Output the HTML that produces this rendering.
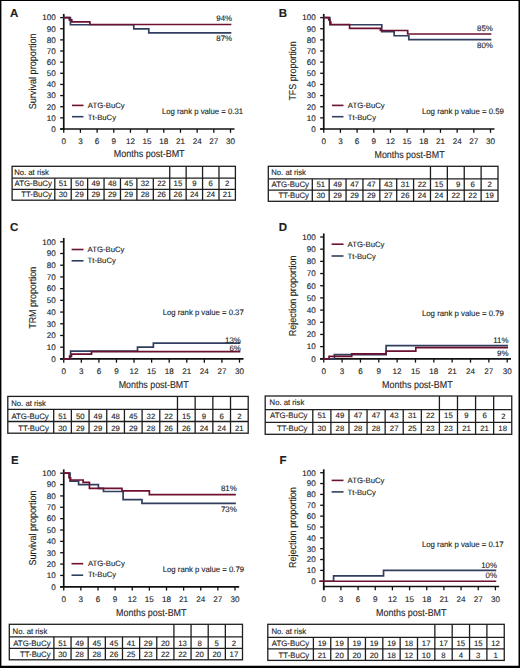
<!DOCTYPE html>
<html><head><meta charset="utf-8"><style>
html,body{margin:0;padding:0;background:#fff;}
body{width:520px;height:668px;overflow:hidden;}
svg{display:block;}
text{font-family:"Liberation Sans", sans-serif;fill:#1e1e1e;text-rendering:geometricPrecision;stroke:#1e1e1e;stroke-width:0.12px;}
</style></head><body>
<svg width="520" height="668" viewBox="0 0 520 668">
<rect x="0" y="0" width="520" height="668" fill="#fff"/>
<text x="10.00" y="16.90" font-size="11.5" font-weight="bold">A</text>
<line x1="63.75" y1="13.90" x2="63.75" y2="129.60" stroke="#111" stroke-width="1.7"/>
<line x1="60.15" y1="129.00" x2="234.50" y2="129.00" stroke="#111" stroke-width="1.7"/>
<line x1="60.15" y1="129.00" x2="63.75" y2="129.00" stroke="#111" stroke-width="1.3"/>
<text x="55.80" y="131.85" font-size="8.1" text-anchor="end">0</text>
<line x1="60.15" y1="117.86" x2="63.75" y2="117.86" stroke="#111" stroke-width="1.3"/>
<text x="55.80" y="120.71" font-size="8.1" text-anchor="end">10</text>
<line x1="60.15" y1="106.72" x2="63.75" y2="106.72" stroke="#111" stroke-width="1.3"/>
<text x="55.80" y="109.57" font-size="8.1" text-anchor="end">20</text>
<line x1="60.15" y1="95.58" x2="63.75" y2="95.58" stroke="#111" stroke-width="1.3"/>
<text x="55.80" y="98.43" font-size="8.1" text-anchor="end">30</text>
<line x1="60.15" y1="84.44" x2="63.75" y2="84.44" stroke="#111" stroke-width="1.3"/>
<text x="55.80" y="87.29" font-size="8.1" text-anchor="end">40</text>
<line x1="60.15" y1="73.30" x2="63.75" y2="73.30" stroke="#111" stroke-width="1.3"/>
<text x="55.80" y="76.15" font-size="8.1" text-anchor="end">50</text>
<line x1="60.15" y1="62.16" x2="63.75" y2="62.16" stroke="#111" stroke-width="1.3"/>
<text x="55.80" y="65.01" font-size="8.1" text-anchor="end">60</text>
<line x1="60.15" y1="51.02" x2="63.75" y2="51.02" stroke="#111" stroke-width="1.3"/>
<text x="55.80" y="53.87" font-size="8.1" text-anchor="end">70</text>
<line x1="60.15" y1="39.88" x2="63.75" y2="39.88" stroke="#111" stroke-width="1.3"/>
<text x="55.80" y="42.73" font-size="8.1" text-anchor="end">80</text>
<line x1="60.15" y1="28.74" x2="63.75" y2="28.74" stroke="#111" stroke-width="1.3"/>
<text x="55.80" y="31.59" font-size="8.1" text-anchor="end">90</text>
<line x1="60.15" y1="17.60" x2="63.75" y2="17.60" stroke="#111" stroke-width="1.3"/>
<text x="55.80" y="20.45" font-size="8.1" text-anchor="end">100</text>
<line x1="63.75" y1="129.00" x2="63.75" y2="132.80" stroke="#111" stroke-width="1.3"/>
<text x="63.75" y="144.00" font-size="8.1" text-anchor="middle">0</text>
<line x1="80.42" y1="129.00" x2="80.42" y2="132.80" stroke="#111" stroke-width="1.3"/>
<text x="80.42" y="144.00" font-size="8.1" text-anchor="middle">3</text>
<line x1="97.10" y1="129.00" x2="97.10" y2="132.80" stroke="#111" stroke-width="1.3"/>
<text x="97.10" y="144.00" font-size="8.1" text-anchor="middle">6</text>
<line x1="113.78" y1="129.00" x2="113.78" y2="132.80" stroke="#111" stroke-width="1.3"/>
<text x="113.78" y="144.00" font-size="8.1" text-anchor="middle">9</text>
<line x1="130.45" y1="129.00" x2="130.45" y2="132.80" stroke="#111" stroke-width="1.3"/>
<text x="130.45" y="144.00" font-size="8.1" text-anchor="middle">12</text>
<line x1="147.12" y1="129.00" x2="147.12" y2="132.80" stroke="#111" stroke-width="1.3"/>
<text x="147.12" y="144.00" font-size="8.1" text-anchor="middle">15</text>
<line x1="163.80" y1="129.00" x2="163.80" y2="132.80" stroke="#111" stroke-width="1.3"/>
<text x="163.80" y="144.00" font-size="8.1" text-anchor="middle">18</text>
<line x1="180.47" y1="129.00" x2="180.47" y2="132.80" stroke="#111" stroke-width="1.3"/>
<text x="180.47" y="144.00" font-size="8.1" text-anchor="middle">21</text>
<line x1="197.15" y1="129.00" x2="197.15" y2="132.80" stroke="#111" stroke-width="1.3"/>
<text x="197.15" y="144.00" font-size="8.1" text-anchor="middle">24</text>
<line x1="213.82" y1="129.00" x2="213.82" y2="132.80" stroke="#111" stroke-width="1.3"/>
<text x="213.82" y="144.00" font-size="8.1" text-anchor="middle">27</text>
<line x1="230.50" y1="129.00" x2="230.50" y2="132.80" stroke="#111" stroke-width="1.3"/>
<text x="230.50" y="144.00" font-size="8.1" text-anchor="middle">30</text>
<text x="113.80" y="157.20" font-size="10" textLength="70.80" lengthAdjust="spacingAndGlyphs">Months post-BMT</text>
<text transform="translate(35.90,71.35) rotate(-90)" font-size="10" text-anchor="middle" textLength="76.00" lengthAdjust="spacingAndGlyphs">Survival proportion</text>
<line x1="72.00" y1="105.40" x2="83.50" y2="105.40" stroke="#6e1130" stroke-width="1.6"/>
<line x1="72.00" y1="116.70" x2="83.50" y2="116.70" stroke="#303f5f" stroke-width="1.6"/>
<text x="87.80" y="108.10" font-size="7.7" textLength="36.90" lengthAdjust="spacingAndGlyphs">ATG-BuCy</text>
<text x="87.80" y="119.60" font-size="7.7" textLength="28.20" lengthAdjust="spacingAndGlyphs">Tt-BuCy</text>
<text x="161.90" y="114.30" font-size="7.9" textLength="81.20" lengthAdjust="spacingAndGlyphs">Log rank p value = 0.31</text>
<path d="M63.75,17.60 H70.42 V24.73 H133.78 V28.96 H148.79 V32.86 H230.50" fill="none" stroke="#303f5f" stroke-width="1.7" stroke-linecap="square"/>
<path d="M63.75,17.60 H69.31 V19.83 H71.81 V21.94 H89.87 V24.51 H230.50" fill="none" stroke="#6e1130" stroke-width="1.7" stroke-linecap="square"/>
<text x="232.10" y="20.80" font-size="7.9" text-anchor="end">94%</text>
<text x="232.10" y="40.80" font-size="7.9" text-anchor="end">87%</text>
<rect x="12.10" y="166.30" width="223.30" height="33.90" fill="none" stroke="#1e1e1e" stroke-width="1.3"/>
<line x1="12.10" y1="178.20" x2="235.40" y2="178.20" stroke="#1e1e1e" stroke-width="1.3"/>
<line x1="12.10" y1="189.30" x2="235.40" y2="189.30" stroke="#1e1e1e" stroke-width="1.3"/>
<line x1="54.80" y1="178.20" x2="54.80" y2="200.20" stroke="#1e1e1e" stroke-width="1.3"/>
<line x1="71.22" y1="178.20" x2="71.22" y2="200.20" stroke="#1e1e1e" stroke-width="1.3"/>
<line x1="87.64" y1="178.20" x2="87.64" y2="200.20" stroke="#1e1e1e" stroke-width="1.3"/>
<line x1="104.05" y1="178.20" x2="104.05" y2="200.20" stroke="#1e1e1e" stroke-width="1.3"/>
<line x1="120.47" y1="178.20" x2="120.47" y2="200.20" stroke="#1e1e1e" stroke-width="1.3"/>
<line x1="136.89" y1="178.20" x2="136.89" y2="200.20" stroke="#1e1e1e" stroke-width="1.3"/>
<line x1="153.31" y1="178.20" x2="153.31" y2="200.20" stroke="#1e1e1e" stroke-width="1.3"/>
<line x1="169.73" y1="166.30" x2="169.73" y2="200.20" stroke="#1e1e1e" stroke-width="1.3"/>
<line x1="186.15" y1="166.30" x2="186.15" y2="200.20" stroke="#1e1e1e" stroke-width="1.3"/>
<line x1="202.56" y1="166.30" x2="202.56" y2="200.20" stroke="#1e1e1e" stroke-width="1.3"/>
<line x1="218.98" y1="166.30" x2="218.98" y2="200.20" stroke="#1e1e1e" stroke-width="1.3"/>
<text x="14.20" y="174.75" font-size="7.9" textLength="34.70" lengthAdjust="spacingAndGlyphs">No. at risk</text>
<text x="51.90" y="186.25" font-size="7.9" text-anchor="end" textLength="37.40" lengthAdjust="spacingAndGlyphs">ATG-BuCy</text>
<text x="51.90" y="197.25" font-size="7.9" text-anchor="end" textLength="30.60" lengthAdjust="spacingAndGlyphs">TT-BuCy</text>
<text x="63.01" y="186.25" font-size="7.8" text-anchor="middle">51</text>
<text x="79.43" y="186.25" font-size="7.8" text-anchor="middle">50</text>
<text x="95.85" y="186.25" font-size="7.8" text-anchor="middle">49</text>
<text x="112.26" y="186.25" font-size="7.8" text-anchor="middle">48</text>
<text x="128.68" y="186.25" font-size="7.8" text-anchor="middle">45</text>
<text x="145.10" y="186.25" font-size="7.8" text-anchor="middle">32</text>
<text x="161.52" y="186.25" font-size="7.8" text-anchor="middle">22</text>
<text x="177.94" y="186.25" font-size="7.8" text-anchor="middle">15</text>
<text x="194.35" y="186.25" font-size="7.8" text-anchor="middle">9</text>
<text x="210.77" y="186.25" font-size="7.8" text-anchor="middle">6</text>
<text x="227.19" y="186.25" font-size="7.8" text-anchor="middle">2</text>
<text x="63.01" y="197.25" font-size="7.8" text-anchor="middle">30</text>
<text x="79.43" y="197.25" font-size="7.8" text-anchor="middle">29</text>
<text x="95.85" y="197.25" font-size="7.8" text-anchor="middle">29</text>
<text x="112.26" y="197.25" font-size="7.8" text-anchor="middle">29</text>
<text x="128.68" y="197.25" font-size="7.8" text-anchor="middle">29</text>
<text x="145.10" y="197.25" font-size="7.8" text-anchor="middle">28</text>
<text x="161.52" y="197.25" font-size="7.8" text-anchor="middle">26</text>
<text x="177.94" y="197.25" font-size="7.8" text-anchor="middle">26</text>
<text x="194.35" y="197.25" font-size="7.8" text-anchor="middle">24</text>
<text x="210.77" y="197.25" font-size="7.8" text-anchor="middle">24</text>
<text x="227.19" y="197.25" font-size="7.8" text-anchor="middle">21</text>
<text x="278.75" y="16.90" font-size="11.5" font-weight="bold">B</text>
<line x1="323.75" y1="13.90" x2="323.75" y2="129.60" stroke="#111" stroke-width="1.7"/>
<line x1="320.15" y1="129.00" x2="494.50" y2="129.00" stroke="#111" stroke-width="1.7"/>
<line x1="320.15" y1="129.00" x2="323.75" y2="129.00" stroke="#111" stroke-width="1.3"/>
<text x="315.80" y="131.85" font-size="8.1" text-anchor="end">0</text>
<line x1="320.15" y1="117.86" x2="323.75" y2="117.86" stroke="#111" stroke-width="1.3"/>
<text x="315.80" y="120.71" font-size="8.1" text-anchor="end">10</text>
<line x1="320.15" y1="106.72" x2="323.75" y2="106.72" stroke="#111" stroke-width="1.3"/>
<text x="315.80" y="109.57" font-size="8.1" text-anchor="end">20</text>
<line x1="320.15" y1="95.58" x2="323.75" y2="95.58" stroke="#111" stroke-width="1.3"/>
<text x="315.80" y="98.43" font-size="8.1" text-anchor="end">30</text>
<line x1="320.15" y1="84.44" x2="323.75" y2="84.44" stroke="#111" stroke-width="1.3"/>
<text x="315.80" y="87.29" font-size="8.1" text-anchor="end">40</text>
<line x1="320.15" y1="73.30" x2="323.75" y2="73.30" stroke="#111" stroke-width="1.3"/>
<text x="315.80" y="76.15" font-size="8.1" text-anchor="end">50</text>
<line x1="320.15" y1="62.16" x2="323.75" y2="62.16" stroke="#111" stroke-width="1.3"/>
<text x="315.80" y="65.01" font-size="8.1" text-anchor="end">60</text>
<line x1="320.15" y1="51.02" x2="323.75" y2="51.02" stroke="#111" stroke-width="1.3"/>
<text x="315.80" y="53.87" font-size="8.1" text-anchor="end">70</text>
<line x1="320.15" y1="39.88" x2="323.75" y2="39.88" stroke="#111" stroke-width="1.3"/>
<text x="315.80" y="42.73" font-size="8.1" text-anchor="end">80</text>
<line x1="320.15" y1="28.74" x2="323.75" y2="28.74" stroke="#111" stroke-width="1.3"/>
<text x="315.80" y="31.59" font-size="8.1" text-anchor="end">90</text>
<line x1="320.15" y1="17.60" x2="323.75" y2="17.60" stroke="#111" stroke-width="1.3"/>
<text x="315.80" y="20.45" font-size="8.1" text-anchor="end">100</text>
<line x1="323.75" y1="129.00" x2="323.75" y2="132.80" stroke="#111" stroke-width="1.3"/>
<text x="323.75" y="144.00" font-size="8.1" text-anchor="middle">0</text>
<line x1="340.43" y1="129.00" x2="340.43" y2="132.80" stroke="#111" stroke-width="1.3"/>
<text x="340.43" y="144.00" font-size="8.1" text-anchor="middle">3</text>
<line x1="357.10" y1="129.00" x2="357.10" y2="132.80" stroke="#111" stroke-width="1.3"/>
<text x="357.10" y="144.00" font-size="8.1" text-anchor="middle">6</text>
<line x1="373.77" y1="129.00" x2="373.77" y2="132.80" stroke="#111" stroke-width="1.3"/>
<text x="373.77" y="144.00" font-size="8.1" text-anchor="middle">9</text>
<line x1="390.45" y1="129.00" x2="390.45" y2="132.80" stroke="#111" stroke-width="1.3"/>
<text x="390.45" y="144.00" font-size="8.1" text-anchor="middle">12</text>
<line x1="407.12" y1="129.00" x2="407.12" y2="132.80" stroke="#111" stroke-width="1.3"/>
<text x="407.12" y="144.00" font-size="8.1" text-anchor="middle">15</text>
<line x1="423.80" y1="129.00" x2="423.80" y2="132.80" stroke="#111" stroke-width="1.3"/>
<text x="423.80" y="144.00" font-size="8.1" text-anchor="middle">18</text>
<line x1="440.48" y1="129.00" x2="440.48" y2="132.80" stroke="#111" stroke-width="1.3"/>
<text x="440.48" y="144.00" font-size="8.1" text-anchor="middle">21</text>
<line x1="457.15" y1="129.00" x2="457.15" y2="132.80" stroke="#111" stroke-width="1.3"/>
<text x="457.15" y="144.00" font-size="8.1" text-anchor="middle">24</text>
<line x1="473.82" y1="129.00" x2="473.82" y2="132.80" stroke="#111" stroke-width="1.3"/>
<text x="473.82" y="144.00" font-size="8.1" text-anchor="middle">27</text>
<line x1="490.50" y1="129.00" x2="490.50" y2="132.80" stroke="#111" stroke-width="1.3"/>
<text x="490.50" y="144.00" font-size="8.1" text-anchor="middle">30</text>
<text x="374.50" y="157.50" font-size="10" textLength="70.10" lengthAdjust="spacingAndGlyphs">Months post-BMT</text>
<text transform="translate(295.90,71.00) rotate(-90)" font-size="10" text-anchor="middle" textLength="59.20" lengthAdjust="spacingAndGlyphs">TFS proportion</text>
<line x1="332.00" y1="105.40" x2="343.50" y2="105.40" stroke="#6e1130" stroke-width="1.6"/>
<line x1="332.00" y1="116.70" x2="343.50" y2="116.70" stroke="#303f5f" stroke-width="1.6"/>
<text x="347.80" y="108.10" font-size="7.7" textLength="36.90" lengthAdjust="spacingAndGlyphs">ATG-BuCy</text>
<text x="347.80" y="119.60" font-size="7.7" textLength="28.20" lengthAdjust="spacingAndGlyphs">Tt-BuCy</text>
<text x="421.90" y="114.10" font-size="7.9" textLength="82.10" lengthAdjust="spacingAndGlyphs">Log rank p value = 0.59</text>
<path d="M323.75,17.60 H329.86 V24.73 H381.78 V31.64 H394.17 V35.76 H408.79 V39.55 H490.50" fill="none" stroke="#303f5f" stroke-width="1.7" stroke-linecap="square"/>
<path d="M323.75,17.60 H328.75 V19.83 H329.86 V22.06 H330.81 V24.51 H349.60 V28.29 H380.44 V30.52 H407.68 V33.98 H490.50" fill="none" stroke="#6e1130" stroke-width="1.7" stroke-linecap="square"/>
<text x="492.80" y="30.80" font-size="7.9" text-anchor="end">85%</text>
<text x="492.80" y="47.70" font-size="7.9" text-anchor="end">80%</text>
<rect x="268.30" y="166.30" width="229.70" height="35.00" fill="none" stroke="#1e1e1e" stroke-width="1.3"/>
<line x1="268.30" y1="178.80" x2="498.00" y2="178.80" stroke="#1e1e1e" stroke-width="1.3"/>
<line x1="268.30" y1="190.20" x2="498.00" y2="190.20" stroke="#1e1e1e" stroke-width="1.3"/>
<line x1="312.30" y1="178.80" x2="312.30" y2="201.30" stroke="#1e1e1e" stroke-width="1.3"/>
<line x1="329.18" y1="178.80" x2="329.18" y2="201.30" stroke="#1e1e1e" stroke-width="1.3"/>
<line x1="346.06" y1="178.80" x2="346.06" y2="201.30" stroke="#1e1e1e" stroke-width="1.3"/>
<line x1="362.95" y1="178.80" x2="362.95" y2="201.30" stroke="#1e1e1e" stroke-width="1.3"/>
<line x1="379.83" y1="178.80" x2="379.83" y2="201.30" stroke="#1e1e1e" stroke-width="1.3"/>
<line x1="396.71" y1="178.80" x2="396.71" y2="201.30" stroke="#1e1e1e" stroke-width="1.3"/>
<line x1="413.59" y1="178.80" x2="413.59" y2="201.30" stroke="#1e1e1e" stroke-width="1.3"/>
<line x1="430.47" y1="166.30" x2="430.47" y2="201.30" stroke="#1e1e1e" stroke-width="1.3"/>
<line x1="447.35" y1="166.30" x2="447.35" y2="201.30" stroke="#1e1e1e" stroke-width="1.3"/>
<line x1="464.24" y1="166.30" x2="464.24" y2="201.30" stroke="#1e1e1e" stroke-width="1.3"/>
<line x1="481.12" y1="166.30" x2="481.12" y2="201.30" stroke="#1e1e1e" stroke-width="1.3"/>
<text x="271.25" y="174.85" font-size="7.9" textLength="34.70" lengthAdjust="spacingAndGlyphs">No. at risk</text>
<text x="309.00" y="186.80" font-size="7.9" text-anchor="end" textLength="37.40" lengthAdjust="spacingAndGlyphs">ATG-BuCy</text>
<text x="309.00" y="198.05" font-size="7.9" text-anchor="end" textLength="30.60" lengthAdjust="spacingAndGlyphs">TT-BuCy</text>
<text x="320.74" y="186.80" font-size="7.8" text-anchor="middle">51</text>
<text x="337.62" y="186.80" font-size="7.8" text-anchor="middle">49</text>
<text x="354.50" y="186.80" font-size="7.8" text-anchor="middle">47</text>
<text x="371.39" y="186.80" font-size="7.8" text-anchor="middle">47</text>
<text x="388.27" y="186.80" font-size="7.8" text-anchor="middle">43</text>
<text x="405.15" y="186.80" font-size="7.8" text-anchor="middle">31</text>
<text x="422.03" y="186.80" font-size="7.8" text-anchor="middle">22</text>
<text x="438.91" y="186.80" font-size="7.8" text-anchor="middle">15</text>
<text x="458.10" y="186.80" font-size="7.8" text-anchor="middle">9</text>
<text x="472.68" y="186.80" font-size="7.8" text-anchor="middle">6</text>
<text x="489.56" y="186.80" font-size="7.8" text-anchor="middle">2</text>
<text x="320.74" y="198.05" font-size="7.8" text-anchor="middle">30</text>
<text x="337.62" y="198.05" font-size="7.8" text-anchor="middle">29</text>
<text x="354.50" y="198.05" font-size="7.8" text-anchor="middle">29</text>
<text x="371.39" y="198.05" font-size="7.8" text-anchor="middle">29</text>
<text x="388.27" y="198.05" font-size="7.8" text-anchor="middle">27</text>
<text x="405.15" y="198.05" font-size="7.8" text-anchor="middle">26</text>
<text x="422.03" y="198.05" font-size="7.8" text-anchor="middle">24</text>
<text x="438.91" y="198.05" font-size="7.8" text-anchor="middle">24</text>
<text x="455.80" y="198.05" font-size="7.8" text-anchor="middle">22</text>
<text x="472.68" y="198.05" font-size="7.8" text-anchor="middle">22</text>
<text x="489.56" y="198.05" font-size="7.8" text-anchor="middle">19</text>
<text x="10.00" y="231.00" font-size="11.5" font-weight="bold">C</text>
<line x1="63.75" y1="238.00" x2="63.75" y2="359.50" stroke="#111" stroke-width="1.7"/>
<line x1="60.15" y1="358.90" x2="243.50" y2="358.90" stroke="#111" stroke-width="1.7"/>
<line x1="60.15" y1="358.90" x2="63.75" y2="358.90" stroke="#111" stroke-width="1.3"/>
<text x="55.80" y="361.75" font-size="8.1" text-anchor="end">0</text>
<line x1="60.15" y1="347.19" x2="63.75" y2="347.19" stroke="#111" stroke-width="1.3"/>
<text x="55.80" y="350.04" font-size="8.1" text-anchor="end">10</text>
<line x1="60.15" y1="335.48" x2="63.75" y2="335.48" stroke="#111" stroke-width="1.3"/>
<text x="55.80" y="338.33" font-size="8.1" text-anchor="end">20</text>
<line x1="60.15" y1="323.77" x2="63.75" y2="323.77" stroke="#111" stroke-width="1.3"/>
<text x="55.80" y="326.62" font-size="8.1" text-anchor="end">30</text>
<line x1="60.15" y1="312.06" x2="63.75" y2="312.06" stroke="#111" stroke-width="1.3"/>
<text x="55.80" y="314.91" font-size="8.1" text-anchor="end">40</text>
<line x1="60.15" y1="300.35" x2="63.75" y2="300.35" stroke="#111" stroke-width="1.3"/>
<text x="55.80" y="303.20" font-size="8.1" text-anchor="end">50</text>
<line x1="60.15" y1="288.64" x2="63.75" y2="288.64" stroke="#111" stroke-width="1.3"/>
<text x="55.80" y="291.49" font-size="8.1" text-anchor="end">60</text>
<line x1="60.15" y1="276.93" x2="63.75" y2="276.93" stroke="#111" stroke-width="1.3"/>
<text x="55.80" y="279.78" font-size="8.1" text-anchor="end">70</text>
<line x1="60.15" y1="265.22" x2="63.75" y2="265.22" stroke="#111" stroke-width="1.3"/>
<text x="55.80" y="268.07" font-size="8.1" text-anchor="end">80</text>
<line x1="60.15" y1="253.51" x2="63.75" y2="253.51" stroke="#111" stroke-width="1.3"/>
<text x="55.80" y="256.36" font-size="8.1" text-anchor="end">90</text>
<line x1="60.15" y1="241.80" x2="63.75" y2="241.80" stroke="#111" stroke-width="1.3"/>
<text x="55.80" y="244.65" font-size="8.1" text-anchor="end">100</text>
<line x1="63.75" y1="358.90" x2="63.75" y2="362.70" stroke="#111" stroke-width="1.3"/>
<text x="63.75" y="373.80" font-size="8.1" text-anchor="middle">0</text>
<line x1="81.33" y1="358.90" x2="81.33" y2="362.70" stroke="#111" stroke-width="1.3"/>
<text x="81.33" y="373.80" font-size="8.1" text-anchor="middle">3</text>
<line x1="98.90" y1="358.90" x2="98.90" y2="362.70" stroke="#111" stroke-width="1.3"/>
<text x="98.90" y="373.80" font-size="8.1" text-anchor="middle">6</text>
<line x1="116.47" y1="358.90" x2="116.47" y2="362.70" stroke="#111" stroke-width="1.3"/>
<text x="116.47" y="373.80" font-size="8.1" text-anchor="middle">9</text>
<line x1="134.05" y1="358.90" x2="134.05" y2="362.70" stroke="#111" stroke-width="1.3"/>
<text x="134.05" y="373.80" font-size="8.1" text-anchor="middle">12</text>
<line x1="151.62" y1="358.90" x2="151.62" y2="362.70" stroke="#111" stroke-width="1.3"/>
<text x="151.62" y="373.80" font-size="8.1" text-anchor="middle">15</text>
<line x1="169.20" y1="358.90" x2="169.20" y2="362.70" stroke="#111" stroke-width="1.3"/>
<text x="169.20" y="373.80" font-size="8.1" text-anchor="middle">18</text>
<line x1="186.78" y1="358.90" x2="186.78" y2="362.70" stroke="#111" stroke-width="1.3"/>
<text x="186.78" y="373.80" font-size="8.1" text-anchor="middle">21</text>
<line x1="204.35" y1="358.90" x2="204.35" y2="362.70" stroke="#111" stroke-width="1.3"/>
<text x="204.35" y="373.80" font-size="8.1" text-anchor="middle">24</text>
<line x1="221.93" y1="358.90" x2="221.93" y2="362.70" stroke="#111" stroke-width="1.3"/>
<text x="221.93" y="373.80" font-size="8.1" text-anchor="middle">27</text>
<line x1="239.50" y1="358.90" x2="239.50" y2="362.70" stroke="#111" stroke-width="1.3"/>
<text x="239.50" y="373.80" font-size="8.1" text-anchor="middle">30</text>
<text x="118.70" y="388.00" font-size="10" textLength="70.00" lengthAdjust="spacingAndGlyphs">Months post-BMT</text>
<text transform="translate(36.40,297.80) rotate(-90)" font-size="10" text-anchor="middle" textLength="62.00" lengthAdjust="spacingAndGlyphs">TRM proportion</text>
<line x1="71.60" y1="249.50" x2="83.50" y2="249.50" stroke="#6e1130" stroke-width="1.6"/>
<line x1="71.60" y1="260.80" x2="83.50" y2="260.80" stroke="#303f5f" stroke-width="1.6"/>
<text x="87.60" y="252.30" font-size="7.7" textLength="36.90" lengthAdjust="spacingAndGlyphs">ATG-BuCy</text>
<text x="87.60" y="263.40" font-size="7.7" textLength="28.20" lengthAdjust="spacingAndGlyphs">Tt-BuCy</text>
<text x="162.70" y="314.60" font-size="7.9" textLength="81.00" lengthAdjust="spacingAndGlyphs">Log rank p value = 0.37</text>
<path d="M63.75,358.90 H70.60 V351.05 H137.51 V347.07 H153.38 V343.21 H239.50" fill="none" stroke="#303f5f" stroke-width="1.7" stroke-linecap="square"/>
<path d="M63.75,358.90 H69.61 V356.09 H71.48 V354.10 H91.52 V351.64 H239.50" fill="none" stroke="#6e1130" stroke-width="1.7" stroke-linecap="square"/>
<text x="240.90" y="343.00" font-size="7.9" text-anchor="end">13%</text>
<text x="240.90" y="351.00" font-size="7.9" text-anchor="end">6%</text>
<rect x="7.80" y="396.40" width="240.40" height="36.80" fill="none" stroke="#1e1e1e" stroke-width="1.3"/>
<line x1="7.80" y1="409.30" x2="248.20" y2="409.30" stroke="#1e1e1e" stroke-width="1.3"/>
<line x1="7.80" y1="421.50" x2="248.20" y2="421.50" stroke="#1e1e1e" stroke-width="1.3"/>
<line x1="53.70" y1="409.30" x2="53.70" y2="433.20" stroke="#1e1e1e" stroke-width="1.3"/>
<line x1="71.38" y1="409.30" x2="71.38" y2="433.20" stroke="#1e1e1e" stroke-width="1.3"/>
<line x1="89.06" y1="409.30" x2="89.06" y2="433.20" stroke="#1e1e1e" stroke-width="1.3"/>
<line x1="106.75" y1="409.30" x2="106.75" y2="433.20" stroke="#1e1e1e" stroke-width="1.3"/>
<line x1="124.43" y1="409.30" x2="124.43" y2="433.20" stroke="#1e1e1e" stroke-width="1.3"/>
<line x1="142.11" y1="409.30" x2="142.11" y2="433.20" stroke="#1e1e1e" stroke-width="1.3"/>
<line x1="159.79" y1="409.30" x2="159.79" y2="433.20" stroke="#1e1e1e" stroke-width="1.3"/>
<line x1="177.47" y1="396.40" x2="177.47" y2="433.20" stroke="#1e1e1e" stroke-width="1.3"/>
<line x1="195.15" y1="396.40" x2="195.15" y2="433.20" stroke="#1e1e1e" stroke-width="1.3"/>
<line x1="212.84" y1="396.40" x2="212.84" y2="433.20" stroke="#1e1e1e" stroke-width="1.3"/>
<line x1="230.52" y1="396.40" x2="230.52" y2="433.20" stroke="#1e1e1e" stroke-width="1.3"/>
<text x="11.25" y="406.45" font-size="7.9" textLength="34.70" lengthAdjust="spacingAndGlyphs">No. at risk</text>
<text x="48.80" y="419.00" font-size="7.9" text-anchor="end" textLength="37.40" lengthAdjust="spacingAndGlyphs">ATG-BuCy</text>
<text x="48.80" y="430.95" font-size="7.9" text-anchor="end" textLength="30.60" lengthAdjust="spacingAndGlyphs">TT-BuCy</text>
<text x="62.54" y="419.00" font-size="7.8" text-anchor="middle">51</text>
<text x="80.22" y="419.00" font-size="7.8" text-anchor="middle">50</text>
<text x="97.90" y="419.00" font-size="7.8" text-anchor="middle">49</text>
<text x="115.59" y="419.00" font-size="7.8" text-anchor="middle">48</text>
<text x="133.27" y="419.00" font-size="7.8" text-anchor="middle">45</text>
<text x="150.95" y="419.00" font-size="7.8" text-anchor="middle">32</text>
<text x="168.63" y="419.00" font-size="7.8" text-anchor="middle">22</text>
<text x="186.31" y="419.00" font-size="7.8" text-anchor="middle">15</text>
<text x="204.00" y="419.00" font-size="7.8" text-anchor="middle">9</text>
<text x="221.68" y="419.00" font-size="7.8" text-anchor="middle">6</text>
<text x="239.36" y="419.00" font-size="7.8" text-anchor="middle">2</text>
<text x="62.54" y="430.95" font-size="7.8" text-anchor="middle">30</text>
<text x="80.22" y="430.95" font-size="7.8" text-anchor="middle">29</text>
<text x="97.90" y="430.95" font-size="7.8" text-anchor="middle">29</text>
<text x="115.59" y="430.95" font-size="7.8" text-anchor="middle">29</text>
<text x="133.27" y="430.95" font-size="7.8" text-anchor="middle">29</text>
<text x="150.95" y="430.95" font-size="7.8" text-anchor="middle">28</text>
<text x="168.63" y="430.95" font-size="7.8" text-anchor="middle">26</text>
<text x="186.31" y="430.95" font-size="7.8" text-anchor="middle">26</text>
<text x="204.00" y="430.95" font-size="7.8" text-anchor="middle">24</text>
<text x="221.68" y="430.95" font-size="7.8" text-anchor="middle">24</text>
<text x="239.36" y="430.95" font-size="7.8" text-anchor="middle">21</text>
<text x="278.75" y="231.00" font-size="11.5" font-weight="bold">D</text>
<line x1="323.75" y1="233.40" x2="323.75" y2="359.40" stroke="#111" stroke-width="1.7"/>
<line x1="320.15" y1="358.80" x2="511.00" y2="358.80" stroke="#111" stroke-width="1.7"/>
<line x1="320.15" y1="358.80" x2="323.75" y2="358.80" stroke="#111" stroke-width="1.3"/>
<text x="315.80" y="361.65" font-size="8.1" text-anchor="end">0</text>
<line x1="320.15" y1="346.62" x2="323.75" y2="346.62" stroke="#111" stroke-width="1.3"/>
<text x="315.80" y="349.47" font-size="8.1" text-anchor="end">10</text>
<line x1="320.15" y1="334.44" x2="323.75" y2="334.44" stroke="#111" stroke-width="1.3"/>
<text x="315.80" y="337.29" font-size="8.1" text-anchor="end">20</text>
<line x1="320.15" y1="322.26" x2="323.75" y2="322.26" stroke="#111" stroke-width="1.3"/>
<text x="315.80" y="325.11" font-size="8.1" text-anchor="end">30</text>
<line x1="320.15" y1="310.08" x2="323.75" y2="310.08" stroke="#111" stroke-width="1.3"/>
<text x="315.80" y="312.93" font-size="8.1" text-anchor="end">40</text>
<line x1="320.15" y1="297.90" x2="323.75" y2="297.90" stroke="#111" stroke-width="1.3"/>
<text x="315.80" y="300.75" font-size="8.1" text-anchor="end">50</text>
<line x1="320.15" y1="285.72" x2="323.75" y2="285.72" stroke="#111" stroke-width="1.3"/>
<text x="315.80" y="288.57" font-size="8.1" text-anchor="end">60</text>
<line x1="320.15" y1="273.54" x2="323.75" y2="273.54" stroke="#111" stroke-width="1.3"/>
<text x="315.80" y="276.39" font-size="8.1" text-anchor="end">70</text>
<line x1="320.15" y1="261.36" x2="323.75" y2="261.36" stroke="#111" stroke-width="1.3"/>
<text x="315.80" y="264.21" font-size="8.1" text-anchor="end">80</text>
<line x1="320.15" y1="249.18" x2="323.75" y2="249.18" stroke="#111" stroke-width="1.3"/>
<text x="315.80" y="252.03" font-size="8.1" text-anchor="end">90</text>
<line x1="320.15" y1="237.00" x2="323.75" y2="237.00" stroke="#111" stroke-width="1.3"/>
<text x="315.80" y="239.85" font-size="8.1" text-anchor="end">100</text>
<line x1="323.75" y1="358.80" x2="323.75" y2="362.60" stroke="#111" stroke-width="1.3"/>
<text x="323.75" y="374.00" font-size="8.1" text-anchor="middle">0</text>
<line x1="342.09" y1="358.80" x2="342.09" y2="362.60" stroke="#111" stroke-width="1.3"/>
<text x="342.09" y="374.00" font-size="8.1" text-anchor="middle">3</text>
<line x1="360.44" y1="358.80" x2="360.44" y2="362.60" stroke="#111" stroke-width="1.3"/>
<text x="360.44" y="374.00" font-size="8.1" text-anchor="middle">6</text>
<line x1="378.78" y1="358.80" x2="378.78" y2="362.60" stroke="#111" stroke-width="1.3"/>
<text x="378.78" y="374.00" font-size="8.1" text-anchor="middle">9</text>
<line x1="397.13" y1="358.80" x2="397.13" y2="362.60" stroke="#111" stroke-width="1.3"/>
<text x="397.13" y="374.00" font-size="8.1" text-anchor="middle">12</text>
<line x1="415.48" y1="358.80" x2="415.48" y2="362.60" stroke="#111" stroke-width="1.3"/>
<text x="415.48" y="374.00" font-size="8.1" text-anchor="middle">15</text>
<line x1="433.82" y1="358.80" x2="433.82" y2="362.60" stroke="#111" stroke-width="1.3"/>
<text x="433.82" y="374.00" font-size="8.1" text-anchor="middle">18</text>
<line x1="452.16" y1="358.80" x2="452.16" y2="362.60" stroke="#111" stroke-width="1.3"/>
<text x="452.16" y="374.00" font-size="8.1" text-anchor="middle">21</text>
<line x1="470.51" y1="358.80" x2="470.51" y2="362.60" stroke="#111" stroke-width="1.3"/>
<text x="470.51" y="374.00" font-size="8.1" text-anchor="middle">24</text>
<line x1="488.86" y1="358.80" x2="488.86" y2="362.60" stroke="#111" stroke-width="1.3"/>
<text x="488.86" y="374.00" font-size="8.1" text-anchor="middle">27</text>
<line x1="507.20" y1="358.80" x2="507.20" y2="362.60" stroke="#111" stroke-width="1.3"/>
<text x="507.20" y="374.00" font-size="8.1" text-anchor="middle">30</text>
<text x="382.10" y="388.00" font-size="10" textLength="70.60" lengthAdjust="spacingAndGlyphs">Months post-BMT</text>
<text transform="translate(296.20,295.90) rotate(-90)" font-size="10" text-anchor="middle" textLength="80.80" lengthAdjust="spacingAndGlyphs">Rejection proportion</text>
<line x1="331.60" y1="244.20" x2="343.50" y2="244.20" stroke="#6e1130" stroke-width="1.6"/>
<line x1="331.60" y1="256.00" x2="343.50" y2="256.00" stroke="#303f5f" stroke-width="1.6"/>
<text x="347.60" y="246.80" font-size="7.7" textLength="36.90" lengthAdjust="spacingAndGlyphs">ATG-BuCy</text>
<text x="347.60" y="258.50" font-size="7.7" textLength="28.20" lengthAdjust="spacingAndGlyphs">Tt-BuCy</text>
<text x="421.90" y="316.20" font-size="7.9" textLength="82.10" lengthAdjust="spacingAndGlyphs">Log rank p value = 0.79</text>
<path d="M323.75,358.80 H334.39 V354.66 H386.12 V345.65 H507.20" fill="none" stroke="#303f5f" stroke-width="1.7" stroke-linecap="square"/>
<path d="M323.75,358.80 H329.07 V356.36 H351.70 V353.81 H386.12 V351.13 H415.78 V347.59 H507.20" fill="none" stroke="#6e1130" stroke-width="1.7" stroke-linecap="square"/>
<text x="508.50" y="343.00" font-size="7.9" text-anchor="end">11%</text>
<text x="508.50" y="355.70" font-size="7.9" text-anchor="end">9%</text>
<rect x="265.20" y="396.00" width="246.55" height="38.30" fill="none" stroke="#1e1e1e" stroke-width="1.3"/>
<line x1="265.20" y1="409.60" x2="511.75" y2="409.60" stroke="#1e1e1e" stroke-width="1.3"/>
<line x1="265.20" y1="422.30" x2="511.75" y2="422.30" stroke="#1e1e1e" stroke-width="1.3"/>
<line x1="312.80" y1="409.60" x2="312.80" y2="434.30" stroke="#1e1e1e" stroke-width="1.3"/>
<line x1="330.89" y1="409.60" x2="330.89" y2="434.30" stroke="#1e1e1e" stroke-width="1.3"/>
<line x1="348.97" y1="409.60" x2="348.97" y2="434.30" stroke="#1e1e1e" stroke-width="1.3"/>
<line x1="367.06" y1="409.60" x2="367.06" y2="434.30" stroke="#1e1e1e" stroke-width="1.3"/>
<line x1="385.15" y1="409.60" x2="385.15" y2="434.30" stroke="#1e1e1e" stroke-width="1.3"/>
<line x1="403.23" y1="409.60" x2="403.23" y2="434.30" stroke="#1e1e1e" stroke-width="1.3"/>
<line x1="421.32" y1="409.60" x2="421.32" y2="434.30" stroke="#1e1e1e" stroke-width="1.3"/>
<line x1="439.40" y1="396.00" x2="439.40" y2="434.30" stroke="#1e1e1e" stroke-width="1.3"/>
<line x1="457.49" y1="396.00" x2="457.49" y2="434.30" stroke="#1e1e1e" stroke-width="1.3"/>
<line x1="475.58" y1="396.00" x2="475.58" y2="434.30" stroke="#1e1e1e" stroke-width="1.3"/>
<line x1="493.66" y1="396.00" x2="493.66" y2="434.30" stroke="#1e1e1e" stroke-width="1.3"/>
<text x="269.60" y="405.00" font-size="7.9" textLength="34.70" lengthAdjust="spacingAndGlyphs">No. at risk</text>
<text x="307.50" y="418.15" font-size="7.9" text-anchor="end" textLength="37.40" lengthAdjust="spacingAndGlyphs">ATG-BuCy</text>
<text x="307.50" y="430.50" font-size="7.9" text-anchor="end" textLength="30.60" lengthAdjust="spacingAndGlyphs">TT-BuCy</text>
<text x="321.84" y="418.15" font-size="7.8" text-anchor="middle">51</text>
<text x="339.93" y="418.15" font-size="7.8" text-anchor="middle">49</text>
<text x="358.02" y="418.15" font-size="7.8" text-anchor="middle">47</text>
<text x="376.10" y="418.15" font-size="7.8" text-anchor="middle">47</text>
<text x="394.19" y="418.15" font-size="7.8" text-anchor="middle">43</text>
<text x="412.27" y="418.15" font-size="7.8" text-anchor="middle">31</text>
<text x="430.36" y="418.15" font-size="7.8" text-anchor="middle">22</text>
<text x="448.45" y="418.15" font-size="7.8" text-anchor="middle">15</text>
<text x="466.53" y="418.15" font-size="7.8" text-anchor="middle">9</text>
<text x="484.62" y="418.15" font-size="7.8" text-anchor="middle">6</text>
<text x="503.31" y="419.45" font-size="7.8" text-anchor="middle">2</text>
<text x="321.84" y="430.50" font-size="7.8" text-anchor="middle">30</text>
<text x="339.93" y="430.50" font-size="7.8" text-anchor="middle">28</text>
<text x="358.02" y="430.50" font-size="7.8" text-anchor="middle">28</text>
<text x="376.10" y="430.50" font-size="7.8" text-anchor="middle">28</text>
<text x="394.19" y="430.50" font-size="7.8" text-anchor="middle">27</text>
<text x="412.27" y="430.50" font-size="7.8" text-anchor="middle">25</text>
<text x="430.36" y="430.50" font-size="7.8" text-anchor="middle">23</text>
<text x="448.45" y="430.50" font-size="7.8" text-anchor="middle">23</text>
<text x="466.53" y="430.50" font-size="7.8" text-anchor="middle">21</text>
<text x="484.62" y="430.50" font-size="7.8" text-anchor="middle">21</text>
<text x="502.71" y="430.50" font-size="7.8" text-anchor="middle">18</text>
<text x="11.00" y="464.00" font-size="11.5" font-weight="bold">E</text>
<line x1="63.75" y1="469.40" x2="63.75" y2="587.40" stroke="#111" stroke-width="1.7"/>
<line x1="60.15" y1="586.80" x2="239.20" y2="586.80" stroke="#111" stroke-width="1.7"/>
<line x1="60.15" y1="586.80" x2="63.75" y2="586.80" stroke="#111" stroke-width="1.3"/>
<text x="55.80" y="589.65" font-size="8.1" text-anchor="end">0</text>
<line x1="60.15" y1="575.44" x2="63.75" y2="575.44" stroke="#111" stroke-width="1.3"/>
<text x="55.80" y="578.29" font-size="8.1" text-anchor="end">10</text>
<line x1="60.15" y1="564.08" x2="63.75" y2="564.08" stroke="#111" stroke-width="1.3"/>
<text x="55.80" y="566.93" font-size="8.1" text-anchor="end">20</text>
<line x1="60.15" y1="552.72" x2="63.75" y2="552.72" stroke="#111" stroke-width="1.3"/>
<text x="55.80" y="555.57" font-size="8.1" text-anchor="end">30</text>
<line x1="60.15" y1="541.36" x2="63.75" y2="541.36" stroke="#111" stroke-width="1.3"/>
<text x="55.80" y="544.21" font-size="8.1" text-anchor="end">40</text>
<line x1="60.15" y1="530.00" x2="63.75" y2="530.00" stroke="#111" stroke-width="1.3"/>
<text x="55.80" y="532.85" font-size="8.1" text-anchor="end">50</text>
<line x1="60.15" y1="518.64" x2="63.75" y2="518.64" stroke="#111" stroke-width="1.3"/>
<text x="55.80" y="521.49" font-size="8.1" text-anchor="end">60</text>
<line x1="60.15" y1="507.28" x2="63.75" y2="507.28" stroke="#111" stroke-width="1.3"/>
<text x="55.80" y="510.13" font-size="8.1" text-anchor="end">70</text>
<line x1="60.15" y1="495.92" x2="63.75" y2="495.92" stroke="#111" stroke-width="1.3"/>
<text x="55.80" y="498.77" font-size="8.1" text-anchor="end">80</text>
<line x1="60.15" y1="484.56" x2="63.75" y2="484.56" stroke="#111" stroke-width="1.3"/>
<text x="55.80" y="487.41" font-size="8.1" text-anchor="end">90</text>
<line x1="60.15" y1="473.20" x2="63.75" y2="473.20" stroke="#111" stroke-width="1.3"/>
<text x="55.80" y="476.05" font-size="8.1" text-anchor="end">100</text>
<line x1="63.75" y1="586.80" x2="63.75" y2="590.60" stroke="#111" stroke-width="1.3"/>
<text x="63.75" y="602.00" font-size="8.1" text-anchor="middle">0</text>
<line x1="80.88" y1="586.80" x2="80.88" y2="590.60" stroke="#111" stroke-width="1.3"/>
<text x="80.88" y="602.00" font-size="8.1" text-anchor="middle">3</text>
<line x1="98.00" y1="586.80" x2="98.00" y2="590.60" stroke="#111" stroke-width="1.3"/>
<text x="98.00" y="602.00" font-size="8.1" text-anchor="middle">6</text>
<line x1="115.12" y1="586.80" x2="115.12" y2="590.60" stroke="#111" stroke-width="1.3"/>
<text x="115.12" y="602.00" font-size="8.1" text-anchor="middle">9</text>
<line x1="132.25" y1="586.80" x2="132.25" y2="590.60" stroke="#111" stroke-width="1.3"/>
<text x="132.25" y="602.00" font-size="8.1" text-anchor="middle">12</text>
<line x1="149.38" y1="586.80" x2="149.38" y2="590.60" stroke="#111" stroke-width="1.3"/>
<text x="149.38" y="602.00" font-size="8.1" text-anchor="middle">15</text>
<line x1="166.50" y1="586.80" x2="166.50" y2="590.60" stroke="#111" stroke-width="1.3"/>
<text x="166.50" y="602.00" font-size="8.1" text-anchor="middle">18</text>
<line x1="183.62" y1="586.80" x2="183.62" y2="590.60" stroke="#111" stroke-width="1.3"/>
<text x="183.62" y="602.00" font-size="8.1" text-anchor="middle">21</text>
<line x1="200.75" y1="586.80" x2="200.75" y2="590.60" stroke="#111" stroke-width="1.3"/>
<text x="200.75" y="602.00" font-size="8.1" text-anchor="middle">24</text>
<line x1="217.88" y1="586.80" x2="217.88" y2="590.60" stroke="#111" stroke-width="1.3"/>
<text x="217.88" y="602.00" font-size="8.1" text-anchor="middle">27</text>
<line x1="235.00" y1="586.80" x2="235.00" y2="590.60" stroke="#111" stroke-width="1.3"/>
<text x="235.00" y="602.00" font-size="8.1" text-anchor="middle">30</text>
<text x="116.10" y="615.60" font-size="10" textLength="70.40" lengthAdjust="spacingAndGlyphs">Months post-BMT</text>
<text transform="translate(36.20,528.00) rotate(-90)" font-size="10" text-anchor="middle" textLength="75.10" lengthAdjust="spacingAndGlyphs">Survival proportion</text>
<line x1="71.50" y1="563.70" x2="83.20" y2="563.70" stroke="#6e1130" stroke-width="1.6"/>
<line x1="71.50" y1="575.20" x2="83.20" y2="575.20" stroke="#303f5f" stroke-width="1.6"/>
<text x="87.90" y="565.80" font-size="7.7" textLength="36.90" lengthAdjust="spacingAndGlyphs">ATG-BuCy</text>
<text x="87.90" y="577.20" font-size="7.7" textLength="28.20" lengthAdjust="spacingAndGlyphs">Tt-BuCy</text>
<text x="162.70" y="572.30" font-size="7.9" textLength="81.50" lengthAdjust="spacingAndGlyphs">Log rank p value = 0.79</text>
<path d="M63.75,473.20 H70.03 V481.15 H78.59 V484.56 H98.40 V488.42 H103.48 V491.49 H123.12 V499.67 H141.95 V503.30 H235.00" fill="none" stroke="#303f5f" stroke-width="1.7" stroke-linecap="square"/>
<path d="M63.75,473.20 H69.00 V477.74 H70.60 V480.02 H83.10 V482.29 H89.44 V488.42 H121.97 V490.81 H149.38 V494.56 H235.00" fill="none" stroke="#6e1130" stroke-width="1.7" stroke-linecap="square"/>
<text x="236.70" y="490.80" font-size="7.9" text-anchor="end">81%</text>
<text x="236.70" y="511.70" font-size="7.9" text-anchor="end">73%</text>
<rect x="9.30" y="624.30" width="233.20" height="35.50" fill="none" stroke="#1e1e1e" stroke-width="1.3"/>
<line x1="9.30" y1="636.80" x2="242.50" y2="636.80" stroke="#1e1e1e" stroke-width="1.3"/>
<line x1="9.30" y1="648.40" x2="242.50" y2="648.40" stroke="#1e1e1e" stroke-width="1.3"/>
<line x1="53.90" y1="636.80" x2="53.90" y2="659.80" stroke="#1e1e1e" stroke-width="1.3"/>
<line x1="71.05" y1="636.80" x2="71.05" y2="659.80" stroke="#1e1e1e" stroke-width="1.3"/>
<line x1="88.19" y1="636.80" x2="88.19" y2="659.80" stroke="#1e1e1e" stroke-width="1.3"/>
<line x1="105.34" y1="636.80" x2="105.34" y2="659.80" stroke="#1e1e1e" stroke-width="1.3"/>
<line x1="122.48" y1="636.80" x2="122.48" y2="659.80" stroke="#1e1e1e" stroke-width="1.3"/>
<line x1="139.63" y1="636.80" x2="139.63" y2="659.80" stroke="#1e1e1e" stroke-width="1.3"/>
<line x1="156.77" y1="636.80" x2="156.77" y2="659.80" stroke="#1e1e1e" stroke-width="1.3"/>
<line x1="173.92" y1="624.30" x2="173.92" y2="659.80" stroke="#1e1e1e" stroke-width="1.3"/>
<line x1="191.06" y1="624.30" x2="191.06" y2="659.80" stroke="#1e1e1e" stroke-width="1.3"/>
<line x1="208.21" y1="624.30" x2="208.21" y2="659.80" stroke="#1e1e1e" stroke-width="1.3"/>
<line x1="225.35" y1="624.30" x2="225.35" y2="659.80" stroke="#1e1e1e" stroke-width="1.3"/>
<text x="12.60" y="633.85" font-size="7.9" textLength="34.70" lengthAdjust="spacingAndGlyphs">No. at risk</text>
<text x="50.60" y="645.90" font-size="7.9" text-anchor="end" textLength="37.40" lengthAdjust="spacingAndGlyphs">ATG-BuCy</text>
<text x="50.60" y="657.40" font-size="7.9" text-anchor="end" textLength="30.60" lengthAdjust="spacingAndGlyphs">TT-BuCy</text>
<text x="62.47" y="645.90" font-size="7.8" text-anchor="middle">51</text>
<text x="79.62" y="645.90" font-size="7.8" text-anchor="middle">49</text>
<text x="96.76" y="645.90" font-size="7.8" text-anchor="middle">45</text>
<text x="113.91" y="645.90" font-size="7.8" text-anchor="middle">45</text>
<text x="131.05" y="645.90" font-size="7.8" text-anchor="middle">41</text>
<text x="148.20" y="645.90" font-size="7.8" text-anchor="middle">29</text>
<text x="165.35" y="645.90" font-size="7.8" text-anchor="middle">20</text>
<text x="182.49" y="645.90" font-size="7.8" text-anchor="middle">13</text>
<text x="199.64" y="645.90" font-size="7.8" text-anchor="middle">8</text>
<text x="216.78" y="645.90" font-size="7.8" text-anchor="middle">5</text>
<text x="233.93" y="645.90" font-size="7.8" text-anchor="middle">2</text>
<text x="62.47" y="657.40" font-size="7.8" text-anchor="middle">30</text>
<text x="79.62" y="657.40" font-size="7.8" text-anchor="middle">28</text>
<text x="96.76" y="657.40" font-size="7.8" text-anchor="middle">28</text>
<text x="113.91" y="657.40" font-size="7.8" text-anchor="middle">26</text>
<text x="131.05" y="657.40" font-size="7.8" text-anchor="middle">25</text>
<text x="148.20" y="657.40" font-size="7.8" text-anchor="middle">23</text>
<text x="165.35" y="657.40" font-size="7.8" text-anchor="middle">22</text>
<text x="182.49" y="657.40" font-size="7.8" text-anchor="middle">22</text>
<text x="199.64" y="657.40" font-size="7.8" text-anchor="middle">20</text>
<text x="216.78" y="657.40" font-size="7.8" text-anchor="middle">20</text>
<text x="233.93" y="657.40" font-size="7.8" text-anchor="middle">17</text>
<text x="279.40" y="463.75" font-size="11.5" font-weight="bold">F</text>
<line x1="323.75" y1="469.30" x2="323.75" y2="590.10" stroke="#111" stroke-width="1.7"/>
<line x1="323.15" y1="586.50" x2="499.20" y2="586.50" stroke="#111" stroke-width="1.7"/>
<line x1="320.15" y1="581.25" x2="323.75" y2="581.25" stroke="#111" stroke-width="1.3"/>
<text x="315.80" y="584.10" font-size="8.1" text-anchor="end">0</text>
<line x1="320.15" y1="570.39" x2="323.75" y2="570.39" stroke="#111" stroke-width="1.3"/>
<text x="315.80" y="573.25" font-size="8.1" text-anchor="end">10</text>
<line x1="320.15" y1="559.54" x2="323.75" y2="559.54" stroke="#111" stroke-width="1.3"/>
<text x="315.80" y="562.39" font-size="8.1" text-anchor="end">20</text>
<line x1="320.15" y1="548.68" x2="323.75" y2="548.68" stroke="#111" stroke-width="1.3"/>
<text x="315.80" y="551.53" font-size="8.1" text-anchor="end">30</text>
<line x1="320.15" y1="537.83" x2="323.75" y2="537.83" stroke="#111" stroke-width="1.3"/>
<text x="315.80" y="540.68" font-size="8.1" text-anchor="end">40</text>
<line x1="320.15" y1="526.98" x2="323.75" y2="526.98" stroke="#111" stroke-width="1.3"/>
<text x="315.80" y="529.83" font-size="8.1" text-anchor="end">50</text>
<line x1="320.15" y1="516.12" x2="323.75" y2="516.12" stroke="#111" stroke-width="1.3"/>
<text x="315.80" y="518.97" font-size="8.1" text-anchor="end">60</text>
<line x1="320.15" y1="505.26" x2="323.75" y2="505.26" stroke="#111" stroke-width="1.3"/>
<text x="315.80" y="508.12" font-size="8.1" text-anchor="end">70</text>
<line x1="320.15" y1="494.41" x2="323.75" y2="494.41" stroke="#111" stroke-width="1.3"/>
<text x="315.80" y="497.26" font-size="8.1" text-anchor="end">80</text>
<line x1="320.15" y1="483.55" x2="323.75" y2="483.55" stroke="#111" stroke-width="1.3"/>
<text x="315.80" y="486.40" font-size="8.1" text-anchor="end">90</text>
<line x1="320.15" y1="472.70" x2="323.75" y2="472.70" stroke="#111" stroke-width="1.3"/>
<text x="315.80" y="475.55" font-size="8.1" text-anchor="end">100</text>
<line x1="323.75" y1="586.50" x2="323.75" y2="590.30" stroke="#111" stroke-width="1.3"/>
<text x="323.75" y="602.00" font-size="8.1" text-anchor="middle">0</text>
<line x1="340.92" y1="586.50" x2="340.92" y2="590.30" stroke="#111" stroke-width="1.3"/>
<text x="340.92" y="602.00" font-size="8.1" text-anchor="middle">3</text>
<line x1="358.08" y1="586.50" x2="358.08" y2="590.30" stroke="#111" stroke-width="1.3"/>
<text x="358.08" y="602.00" font-size="8.1" text-anchor="middle">6</text>
<line x1="375.25" y1="586.50" x2="375.25" y2="590.30" stroke="#111" stroke-width="1.3"/>
<text x="375.25" y="602.00" font-size="8.1" text-anchor="middle">9</text>
<line x1="392.41" y1="586.50" x2="392.41" y2="590.30" stroke="#111" stroke-width="1.3"/>
<text x="392.41" y="602.00" font-size="8.1" text-anchor="middle">12</text>
<line x1="409.57" y1="586.50" x2="409.57" y2="590.30" stroke="#111" stroke-width="1.3"/>
<text x="409.57" y="602.00" font-size="8.1" text-anchor="middle">15</text>
<line x1="426.74" y1="586.50" x2="426.74" y2="590.30" stroke="#111" stroke-width="1.3"/>
<text x="426.74" y="602.00" font-size="8.1" text-anchor="middle">18</text>
<line x1="443.90" y1="586.50" x2="443.90" y2="590.30" stroke="#111" stroke-width="1.3"/>
<text x="443.90" y="602.00" font-size="8.1" text-anchor="middle">21</text>
<line x1="461.07" y1="586.50" x2="461.07" y2="590.30" stroke="#111" stroke-width="1.3"/>
<text x="461.07" y="602.00" font-size="8.1" text-anchor="middle">24</text>
<line x1="478.24" y1="586.50" x2="478.24" y2="590.30" stroke="#111" stroke-width="1.3"/>
<text x="478.24" y="602.00" font-size="8.1" text-anchor="middle">27</text>
<line x1="495.40" y1="586.50" x2="495.40" y2="590.30" stroke="#111" stroke-width="1.3"/>
<text x="495.40" y="602.00" font-size="8.1" text-anchor="middle">30</text>
<text x="376.10" y="615.60" font-size="10" textLength="70.40" lengthAdjust="spacingAndGlyphs">Months post-BMT</text>
<text transform="translate(296.20,527.60) rotate(-90)" font-size="10" text-anchor="middle" textLength="80.80" lengthAdjust="spacingAndGlyphs">Rejection proportion</text>
<line x1="331.60" y1="480.40" x2="343.50" y2="480.40" stroke="#6e1130" stroke-width="1.6"/>
<line x1="331.60" y1="491.90" x2="343.50" y2="491.90" stroke="#303f5f" stroke-width="1.6"/>
<text x="347.60" y="483.20" font-size="7.7" textLength="36.90" lengthAdjust="spacingAndGlyphs">ATG-BuCy</text>
<text x="347.60" y="494.50" font-size="7.7" textLength="28.20" lengthAdjust="spacingAndGlyphs">Tt-BuCy</text>
<text x="421.90" y="547.30" font-size="7.9" textLength="81.80" lengthAdjust="spacingAndGlyphs">Log rank p value = 0.17</text>
<path d="M323.75,581.25 H333.59 V575.82 H383.54 V570.39 H495.40" fill="none" stroke="#303f5f" stroke-width="1.7" stroke-linecap="square"/>
<path d="M320.00,581.25 H495.40" fill="none" stroke="#6e1130" stroke-width="1.7" stroke-linecap="square"/>
<text x="497.00" y="567.90" font-size="7.9" text-anchor="end">10%</text>
<text x="497.00" y="578.00" font-size="7.9" text-anchor="end">0%</text>
<rect x="267.80" y="624.30" width="236.45" height="36.10" fill="none" stroke="#1e1e1e" stroke-width="1.3"/>
<line x1="267.80" y1="637.30" x2="504.25" y2="637.30" stroke="#1e1e1e" stroke-width="1.3"/>
<line x1="267.80" y1="648.80" x2="504.25" y2="648.80" stroke="#1e1e1e" stroke-width="1.3"/>
<line x1="313.40" y1="637.30" x2="313.40" y2="660.40" stroke="#1e1e1e" stroke-width="1.3"/>
<line x1="330.75" y1="637.30" x2="330.75" y2="660.40" stroke="#1e1e1e" stroke-width="1.3"/>
<line x1="348.10" y1="637.30" x2="348.10" y2="660.40" stroke="#1e1e1e" stroke-width="1.3"/>
<line x1="365.45" y1="637.30" x2="365.45" y2="660.40" stroke="#1e1e1e" stroke-width="1.3"/>
<line x1="382.80" y1="637.30" x2="382.80" y2="660.40" stroke="#1e1e1e" stroke-width="1.3"/>
<line x1="400.15" y1="637.30" x2="400.15" y2="660.40" stroke="#1e1e1e" stroke-width="1.3"/>
<line x1="417.50" y1="637.30" x2="417.50" y2="660.40" stroke="#1e1e1e" stroke-width="1.3"/>
<line x1="434.85" y1="624.30" x2="434.85" y2="660.40" stroke="#1e1e1e" stroke-width="1.3"/>
<line x1="452.20" y1="624.30" x2="452.20" y2="660.40" stroke="#1e1e1e" stroke-width="1.3"/>
<line x1="469.55" y1="624.30" x2="469.55" y2="660.40" stroke="#1e1e1e" stroke-width="1.3"/>
<line x1="486.90" y1="624.30" x2="486.90" y2="660.40" stroke="#1e1e1e" stroke-width="1.3"/>
<text x="271.40" y="634.20" font-size="7.9" textLength="34.70" lengthAdjust="spacingAndGlyphs">No. at risk</text>
<text x="309.20" y="646.45" font-size="7.9" text-anchor="end" textLength="37.40" lengthAdjust="spacingAndGlyphs">ATG-BuCy</text>
<text x="309.20" y="658.00" font-size="7.9" text-anchor="end" textLength="30.60" lengthAdjust="spacingAndGlyphs">TT-BuCy</text>
<text x="322.07" y="646.45" font-size="7.8" text-anchor="middle">19</text>
<text x="339.42" y="646.45" font-size="7.8" text-anchor="middle">19</text>
<text x="356.77" y="646.45" font-size="7.8" text-anchor="middle">19</text>
<text x="374.12" y="646.45" font-size="7.8" text-anchor="middle">19</text>
<text x="391.47" y="646.45" font-size="7.8" text-anchor="middle">19</text>
<text x="408.82" y="646.45" font-size="7.8" text-anchor="middle">18</text>
<text x="426.17" y="646.45" font-size="7.8" text-anchor="middle">17</text>
<text x="443.52" y="646.45" font-size="7.8" text-anchor="middle">17</text>
<text x="460.88" y="646.45" font-size="7.8" text-anchor="middle">15</text>
<text x="478.23" y="646.45" font-size="7.8" text-anchor="middle">15</text>
<text x="495.57" y="646.45" font-size="7.8" text-anchor="middle">12</text>
<text x="322.07" y="658.00" font-size="7.8" text-anchor="middle">21</text>
<text x="339.42" y="658.00" font-size="7.8" text-anchor="middle">20</text>
<text x="356.77" y="658.00" font-size="7.8" text-anchor="middle">20</text>
<text x="374.12" y="658.00" font-size="7.8" text-anchor="middle">20</text>
<text x="391.47" y="658.00" font-size="7.8" text-anchor="middle">18</text>
<text x="408.82" y="658.00" font-size="7.8" text-anchor="middle">12</text>
<text x="426.17" y="658.00" font-size="7.8" text-anchor="middle">10</text>
<text x="443.52" y="658.00" font-size="7.8" text-anchor="middle">8</text>
<text x="460.88" y="658.00" font-size="7.8" text-anchor="middle">4</text>
<text x="478.23" y="658.00" font-size="7.8" text-anchor="middle">3</text>
<text x="495.57" y="658.00" font-size="7.8" text-anchor="middle">1</text>
<path d="M0,0H520V668H0Z M1.4,1.1V665.8H518.5V1.1Z" fill="#000" fill-rule="evenodd"/>
</svg>
</body></html>
